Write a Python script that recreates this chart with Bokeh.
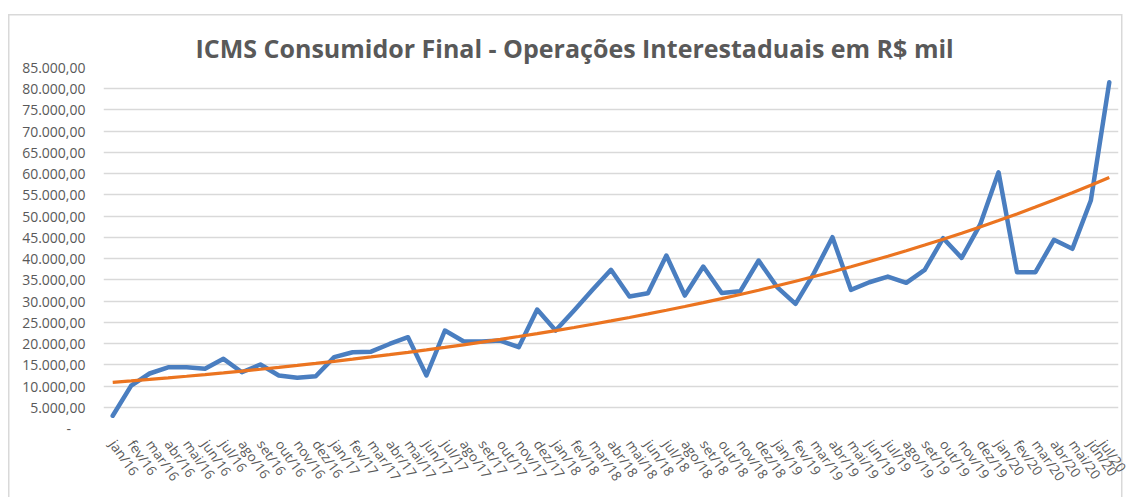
import numpy as np
from bokeh.plotting import figure
from bokeh.models import FactorRange, FixedTicker, Title
from bokeh.embed import file_html
from bokeh.resources import INLINE

meses = ["jan", "fev", "mar", "abr", "mai", "jun", "jul", "ago", "set", "out", "nov", "dez"]
months = [f"{m}/{y}" for y in ["16", "17", "18", "19"] for m in meses] + \
         [f"{m}/20" for m in meses[:7]]

values = [
    3000, 10100, 12950, 14400, 14400, 14050, 16400, 13250, 15070, 12480, 11930, 12300,
    16800, 17960, 18100, 19900, 21500, 12480, 23070, 20550, 20480, 20700, 19140, 28010,
    23070, 27800, 32650, 37360, 31070, 31850, 40720, 31300, 38130, 31920, 32300, 39550,
    33300, 29350, 36600, 45050, 32650, 34440, 35780, 34300, 37360, 44800, 40170, 48000,
    60330, 36800, 36800, 44420, 42300, 53670, 81520,
]

y_ticks = list(range(0, 85001, 5000))

def br_fmt(v):
    if v == 0:
        return "-    "
    s = f"{v:,.2f}"
    return s.replace(",", "X").replace(".", ",").replace("X", ".")

# Exponential trendline (least squares on log values, as a spreadsheet does)
xs = np.arange(1, len(values) + 1)
b, a = np.polyfit(xs, np.log(values), 1)
trend = list(np.exp(a + b * xs))

p = figure(
    x_range=FactorRange(factors=months, range_padding=0),
    y_range=(0, 85000),
    width=1130, height=497,
    output_backend="svg", toolbar_location=None,
    min_border_left=103, min_border_right=12, min_border_top=67, min_border_bottom=69,
)
p.outline_line_color = None
p.background_fill_color = "white"
p.border_fill_color = None
p.styles = {
    "background": (
        "linear-gradient(#D9D9D9, #D9D9D9) 8px 14px / 1114px 1.5px no-repeat, "
        "linear-gradient(#D9D9D9, #D9D9D9) 8px 14px / 1.5px 490px no-repeat, "
        "linear-gradient(#D9D9D9, #D9D9D9) 1121px 14px / 1.5px 490px no-repeat, "
        "white"
    )
}

title = Title(text="ICMS Consumidor Final - Operações Interestaduais em R$ mil",
              align="left", offset=92, text_font="Open Sans", text_font_size="25px",
              text_font_style="bold", text_color="#595959", standoff=6)
p.add_layout(title, "above")

p.line(months, values, line_color="#4A7EC0", line_width=4.5, line_join="round", line_cap="round")
p.line(months, trend, line_color="#EB7420", line_width=3.2)

p.yaxis.ticker = FixedTicker(ticks=y_ticks)
p.yaxis.major_label_overrides = {t: br_fmt(t) for t in y_ticks}
p.yaxis.major_label_text_font = "Open Sans"
p.yaxis.major_label_text_font_size = "14px"
p.yaxis.major_label_text_color = "#595959"
p.yaxis.major_label_standoff = 18
p.yaxis.axis_line_color = None
p.yaxis.major_tick_line_color = None
p.yaxis.minor_tick_line_color = None
p.yaxis.major_tick_out = 0

p.xaxis.major_label_orientation = -0.96
p.xaxis.major_label_text_font = "Open Sans"
p.xaxis.major_label_text_font_size = "13.5px"
p.xaxis.major_label_text_color = "#595959"
p.xaxis.major_label_standoff = 13
p.xaxis.axis_line_color = None
p.xaxis.major_tick_line_color = None
p.xaxis.major_tick_out = 0

p.xgrid.grid_line_color = None
p.ygrid.grid_line_color = "#D9D9D9"
p.ygrid.grid_line_width = 1.5

open("out.html", "w").write(file_html(p, INLINE))
